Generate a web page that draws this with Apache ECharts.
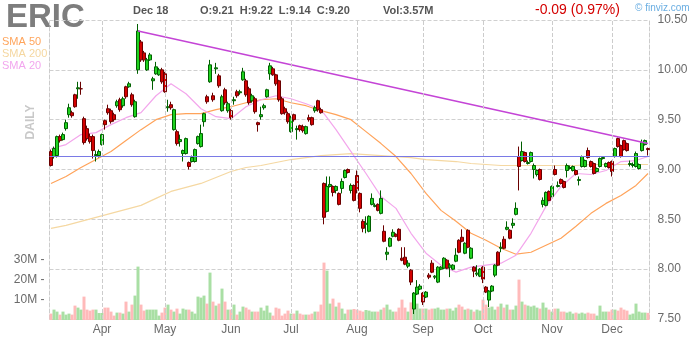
<!DOCTYPE html>
<html><head><meta charset="utf-8">
<script src="https://cdn.jsdelivr.net/npm/echarts/dist/echarts.min.js"></script>
<style>html,body{margin:0;padding:0;background:#fff}#c{width:700px;height:340px}</style>
</head><body><div id="c"></div>
<script>
const ticker = 'ERIC';
const dates = [
'2019-03-07','2019-03-08','2019-03-11','2019-03-12','2019-03-13','2019-03-14','2019-03-15','2019-03-18','2019-03-19','2019-03-20','2019-03-21','2019-03-22','2019-03-25','2019-03-26','2019-03-27','2019-03-28','2019-03-29',
'2019-04-01','2019-04-02','2019-04-03','2019-04-04','2019-04-05','2019-04-08','2019-04-09','2019-04-10','2019-04-11','2019-04-12','2019-04-15','2019-04-16','2019-04-17','2019-04-18','2019-04-22','2019-04-23','2019-04-24','2019-04-25','2019-04-26','2019-04-29','2019-04-30',
'2019-05-01','2019-05-02','2019-05-03','2019-05-06','2019-05-07','2019-05-08','2019-05-09','2019-05-10','2019-05-13','2019-05-14','2019-05-15','2019-05-16','2019-05-17','2019-05-20','2019-05-21','2019-05-22','2019-05-23','2019-05-24','2019-05-28','2019-05-29','2019-05-30','2019-05-31',
'2019-06-03','2019-06-04','2019-06-05','2019-06-06','2019-06-07','2019-06-10','2019-06-11','2019-06-12','2019-06-13','2019-06-14','2019-06-17','2019-06-18','2019-06-19','2019-06-20','2019-06-21','2019-06-24','2019-06-25','2019-06-26','2019-06-27','2019-06-28',
'2019-07-01','2019-07-02','2019-07-03','2019-07-05','2019-07-08','2019-07-09','2019-07-10','2019-07-11','2019-07-12','2019-07-15','2019-07-16','2019-07-17','2019-07-18','2019-07-19','2019-07-22','2019-07-23','2019-07-24','2019-07-25','2019-07-26','2019-07-29','2019-07-30','2019-07-31',
'2019-08-01','2019-08-02','2019-08-05','2019-08-06','2019-08-07','2019-08-08','2019-08-09','2019-08-12','2019-08-13','2019-08-14','2019-08-15','2019-08-16','2019-08-19','2019-08-20','2019-08-21','2019-08-22','2019-08-23','2019-08-26','2019-08-27','2019-08-28','2019-08-29','2019-08-30',
'2019-09-03','2019-09-04','2019-09-05','2019-09-06','2019-09-09','2019-09-10','2019-09-11','2019-09-12','2019-09-13','2019-09-16','2019-09-17','2019-09-18','2019-09-19','2019-09-20','2019-09-23','2019-09-24','2019-09-25','2019-09-26','2019-09-27','2019-09-30',
'2019-10-01','2019-10-02','2019-10-03','2019-10-04','2019-10-07','2019-10-08','2019-10-09','2019-10-10','2019-10-11','2019-10-14','2019-10-15','2019-10-16','2019-10-17','2019-10-18','2019-10-21','2019-10-22','2019-10-23','2019-10-24','2019-10-25','2019-10-28','2019-10-29','2019-10-30','2019-10-31',
'2019-11-01','2019-11-04','2019-11-05','2019-11-06','2019-11-07','2019-11-08','2019-11-11','2019-11-12','2019-11-13','2019-11-14','2019-11-15','2019-11-18','2019-11-19','2019-11-20','2019-11-21','2019-11-22','2019-11-25','2019-11-26','2019-11-27','2019-11-29',
'2019-12-02','2019-12-03','2019-12-04','2019-12-05','2019-12-06','2019-12-09','2019-12-10','2019-12-11','2019-12-12','2019-12-13','2019-12-16','2019-12-17','2019-12-18'
];
const open = [
9.18,9.13,9.14,9.33,9.30,9.41,9.55,9.57,9.75,9.81, 9.81,9.51,9.41,9.33,9.33,9.14,9.14,9.25,9.49,9.61,
9.59,9.55,9.64,9.70,9.64,9.83,9.83,9.75,9.53,10.00, 10.28,10.17,10.00,10.10,9.89,9.96,9.95,10.00,9.96,9.62,
9.65,9.40,9.38,9.28,9.16,9.16,9.07,9.08,9.08,9.26, 9.23,9.48,9.73,9.88,9.74,10.01,9.94,9.59,9.80,9.59,
9.59,9.69,9.78,9.77,9.90,9.89,9.81,9.69,9.71,9.47, 9.53,9.62,9.73,9.96,10.01,9.95,9.89,9.71,9.61,9.56,
9.38,9.55,9.40,9.44,9.43,9.36,9.52,9.52,9.59,9.69, 9.60,8.86,8.58,8.83,8.83,8.79,8.76,8.81,8.92,9.00,
8.79,8.84,8.94,8.76,8.48,8.45,8.38,8.65,8.63,8.65, 8.56,8.38,8.15,8.23,8.33,8.35,8.40,8.11,8.12,8.03,
7.99,7.60,7.75,7.80,7.76,7.72,7.94,8.06,7.92,7.87, 8.00,8.01,8.09,8.02,8.00,8.08,8.29,8.32,8.16,8.39,
8.11,8.02,7.95,7.93,8.02,7.82,7.69,7.78,7.94,8.17, 8.21,8.30,8.40,8.39,8.44,8.55,9.13,9.09,9.17,9.06,
9.08,9.00,8.95,9.00,8.65,8.64,8.78,8.73,9.00,8.83, 8.90,8.88,8.99,9.01,8.99,8.99,8.89,9.03,9.03,9.19,
9.08,9.06,8.98,9.03,9.11,9.03,9.07,9.08,9.13,9.31, 9.24,9.29,9.26,9.05,9.04,9.03,9.01,9.19,9.25,9.21
];
const close = [
9.04,9.21,9.33,9.29,9.35,9.47,9.62,9.54,9.63,9.82, 9.81,9.27,9.31,9.28,9.19,9.15,9.18,9.35,9.45,9.57,
9.48,9.50,9.68,9.60,9.71,9.73,9.86,9.65,9.68,10.39, 10.10,10.10,10.10,10.15,9.91,10.03,10.00,9.88,9.78,9.63,
9.62,9.60,9.26,9.30,9.19,9.31,9.03,9.12,9.20,9.33, 9.36,9.56,9.68,10.05,9.70,10.02,9.84,9.73,9.67,9.66,
9.52,9.70,9.74,9.78,9.98,9.75,9.67,9.74,9.58,9.45, 9.55,9.64,9.80,10.04,9.95,9.86,9.70,9.56,9.57,9.48,
9.52,9.50,9.41,9.40,9.39,9.43,9.50,9.45,9.62,9.60, 9.57,8.52,8.83,8.85,8.77,8.83,8.65,8.88,8.99,8.97,
8.84,8.69,8.79,8.61,8.41,8.46,8.53,8.71,8.64,8.59, 8.71,8.28,8.17,8.31,8.37,8.33,8.29,8.09,8.05,8.06,
7.87,7.76,7.82,7.83,7.67,7.77,7.92,7.97,7.93,8.02, 8.02,8.11,8.01,8.04,8.04,8.14,8.17,8.28,8.26,8.22,
8.21,7.98,7.96,8.00,7.90,7.77,7.78,7.83,8.04,8.04, 8.22,8.21,8.42,8.31,8.46,8.61,9.03,9.18,9.08,9.07,
9.17,9.04,8.99,8.90,8.69,8.77,8.69,8.83,8.95,8.84, 8.86,8.82,9.04,9.02,9.03,8.95,8.90,9.13,9.09,9.12,
9.03,8.96,9.01,9.11,9.12,9.06,9.02,8.98,9.21,9.23, 9.13,9.20,9.19,9.06,9.05,9.16,9.05,9.27,9.29,9.20
];
const low = [
9.03,9.11,9.12,9.27,9.29,9.39,9.52,9.52,9.62,9.71, 9.75,9.25,9.29,9.26,9.11,9.08,9.12,9.24,9.40,9.55,
9.46,9.48,9.62,9.58,9.62,9.71,9.82,9.63,9.52,9.96, 10.08,10.08,9.99,10.09,9.80,9.95,9.94,9.86,9.77,9.58,
9.60,9.39,9.24,9.23,9.08,9.15,9.00,9.07,9.07,9.25, 9.22,9.43,9.66,9.87,9.68,9.96,9.82,9.58,9.65,9.57,
9.50,9.65,9.72,9.75,9.89,9.73,9.65,9.67,9.56,9.38, 9.50,9.60,9.72,9.90,9.94,9.84,9.68,9.55,9.55,9.46,
9.37,9.48,9.30,9.38,9.37,9.35,9.48,9.44,9.57,9.58, 9.56,8.45,8.57,8.82,8.73,8.76,8.64,8.76,8.91,8.96,
8.76,8.68,8.76,8.57,8.37,8.36,8.37,8.64,8.62,8.58, 8.55,8.27,8.09,8.22,8.32,8.32,8.28,8.08,8.04,8.01,
7.84,7.55,7.74,7.79,7.64,7.71,7.90,7.96,7.90,7.86, 7.99,8.00,8.00,7.92,7.99,8.07,8.16,8.27,8.15,8.21,
8.10,7.92,7.93,7.92,7.86,7.76,7.62,7.77,7.92,8.03, 8.17,8.20,8.39,8.30,8.41,8.54,8.79,9.08,9.07,9.05,
9.07,8.91,8.93,8.89,8.62,8.63,8.68,8.72,8.94,8.82, 8.85,8.81,8.92,9.00,8.98,8.94,8.84,9.02,9.02,9.11,
9.02,8.95,8.97,9.02,9.10,9.02,9.01,8.93,9.12,9.22, 9.12,9.19,9.18,9.03,9.02,9.02,9.00,9.18,9.24,9.14
];
const high = [
9.20,9.23,9.34,9.35,9.37,9.50,9.66,9.59,9.76,9.88, 9.88,9.53,9.44,9.36,9.35,9.19,9.20,9.36,9.50,9.65,
9.61,9.57,9.70,9.72,9.73,9.84,9.88,9.77,9.70,10.46, 10.30,10.19,10.12,10.17,9.93,10.08,10.02,10.02,9.98,9.70,
9.68,9.61,9.40,9.35,9.20,9.32,9.08,9.14,9.21,9.34, 9.45,9.57,9.75,10.10,9.77,10.07,9.96,9.75,9.82,9.68,
9.61,9.73,9.80,9.80,10.02,9.91,9.83,9.76,9.73,9.48, 9.63,9.66,9.81,10.07,10.03,9.96,9.90,9.73,9.63,9.58,
9.54,9.56,9.44,9.45,9.45,9.44,9.55,9.53,9.64,9.70, 9.62,8.87,8.93,8.93,8.84,8.84,8.77,8.91,9.00,9.01,
8.86,8.85,8.99,8.77,8.50,8.53,8.54,8.76,8.66,8.66, 8.79,8.44,8.22,8.32,8.40,8.36,8.41,8.22,8.22,8.09,
8.00,7.77,7.89,7.85,7.77,7.78,7.96,8.09,7.94,8.03, 8.03,8.12,8.10,8.06,8.05,8.21,8.30,8.40,8.27,8.40,
8.22,8.03,8.04,8.01,8.03,7.83,7.79,7.84,8.05,8.18, 8.27,8.33,8.48,8.40,8.51,8.67,9.23,9.28,9.18,9.09,
9.18,9.06,9.00,9.01,8.72,8.78,8.79,8.84,9.04,8.88, 8.91,8.89,9.06,9.04,9.04,9.00,8.93,9.14,9.10,9.22,
9.09,9.07,9.02,9.12,9.13,9.07,9.08,9.09,9.22,9.32, 9.25,9.30,9.27,9.09,9.07,9.18,9.06,9.30,9.30,9.22
];
const volumeM = [
3.2,5.2,4.2,2.7,4.2,2.7,3.2,2.7,7.2,6.2, 5.2,11.7,5.2,4.7,5.2,5.2,3.5,3.5,6.2,6.2,
4.2,2.2,3.7,3.7,3.2,9.2,4.2,7.7,12.2,26.7, 7.7,4.7,5.2,5.2,5.2,5.2,2.2,3.7,6.2,7.7,
5.2,4.2,5.7,3.2,5.7,5.2,5.2,4.2,3.2,11.7, 11.2,12.2,8.2,23.7,9.2,7.2,8.2,15.7,9.2,5.2,
5.2,7.7,2.7,4.2,6.7,6.2,5.2,4.2,4.2,4.2, 6.2,4.7,7.2,3.7,2.2,6.2,5.7,2.2,3.2,4.7,
3.2,3.2,4.7,3.2,2.7,2.7,2.7,3.2,4.2,4.2, 7.7,28.7,24.7,8.2,10.7,6.7,8.7,5.7,3.2,5.2,
5.2,5.5,5.2,4.7,4.2,5.0,4.7,4.2,4.2,4.2, 5.2,6.2,7.7,5.2,4.2,4.2,6.2,10.2,6.2,4.2,
8.8,9.2,8.2,5.7,5.7,5.7,5.2,5.7,5.7,6.2, 5.2,5.2,5.7,5.7,4.7,6.2,7.7,6.7,5.2,5.7,
5.2,4.2,5.2,4.7,10.2,7.7,6.2,6.7,5.2,6.7, 8.2,6.2,7.7,5.2,5.2,7.2,20.2,9.2,7.7,7.2,
6.7,7.2,6.2,5.7,8.7,6.2,5.2,4.2,5.7,5.7, 4.2,4.2,3.7,4.2,3.2,3.7,3.2,3.7,3.2,3.7,
3.2,3.2,2.2,7.2,4.2,4.2,4.2,5.2,5.2,4.7, 6.2,5.2,4.7,2.7,3.2,8.2,4.2,3.7,3.7,3.57
];
// moving averages at these bar indices
const smaIndex = [0,5,10,15,20,25,30,35,40,45,50,55,60,65,70,75,80,85,90,95,100,105,110,115,120,125,130,135,140,145,150,155,160,165,170,175,180,185,190,195,199];
const sma20 = [9.21,9.25,9.35,9.37,9.45,9.52,9.57,9.74,9.86,9.76,9.61,9.53,9.51,9.63,9.70,9.74,9.71,9.66,9.60,9.40,9.18,8.96,8.73,8.61,8.36,8.16,8.04,7.97,8.02,8.04,8.06,8.14,8.36,8.63,8.83,8.96,8.95,8.99,9.08,9.09,9.13];
const sma50 = [8.86,8.93,9.02,9.10,9.18,9.29,9.40,9.50,9.55,9.56,9.56,9.60,9.63,9.67,9.70,9.71,9.67,9.64,9.59,9.55,9.50,9.38,9.26,9.13,8.96,8.76,8.59,8.48,8.36,8.29,8.21,8.15,8.17,8.24,8.31,8.43,8.56,8.66,8.74,8.84,8.96];
const sma200 = [8.41,8.44,8.48,8.52,8.56,8.60,8.64,8.71,8.78,8.82,8.86,8.92,8.98,9.02,9.04,9.07,9.10,9.12,9.14,9.15,9.16,9.15,9.14,9.13,9.12,9.10,9.09,9.08,9.06,9.05,9.04,9.04,9.04,9.04,9.04,9.04,9.05,9.05,9.05,9.05,9.05];
const trendIndex = [29,199];
const trendValue = [10.39,9.26];
const supportLevel = 9.13;
const priceTicks = [7.5,8.0,8.5,9.0,9.5,10.0,10.5];
const volumeTicksM = [10,20,30];
const monthNames = ['Jan','Feb','Mar','Apr','May','Jun','Jul','Aug','Sep','Oct','Nov','Dec'];

const FONT = 'Arial, "Liberation Sans", Helvetica, sans-serif';
const n = dates.length, last = n - 1;
const ohlc = dates.map((d,i)=>[open[i], close[i], low[i], high[i]]);
const volData = volumeM.map((v,i)=>({value:v, itemStyle:{color: close[i] >= open[i] ? '#a9dfa4' : '#ffbaba'}}));
const monthStarts = [];
dates.forEach((d,i)=>{ if(i>0 && d.slice(5,7)!==dates[i-1].slice(5,7)) monthStarts.push(i); });
const chg = close[last]-close[last-1];
const pct = Math.abs(chg)/close[last-1]*100;
const lastDate = dates[last];
const dateText = monthNames[+lastDate.slice(5,7)-1] + ' ' + (+lastDate.slice(8,10));
const ohlcText = 'O:'+open[last].toFixed(2)+'  H:'+high[last].toFixed(2)+'  L:'+low[last].toFixed(2)+'  C:'+close[last].toFixed(2);

const chart = echarts.init(document.getElementById('c'), null, {renderer:'canvas'});
const txt = (x,y,text,color,size,weight,extra)=>Object.assign({type:'text', x:x, y:y, silent:true,
  style:{text:text, fill:color, font:(weight||'normal')+' '+size+'px '+FONT, textVerticalAlign:'middle'}}, extra||{});

chart.setOption({
  animation:false,
  backgroundColor:'#ffffff',
  grid:[
    {left:49.5, right:50.5, top:20, height:299},
    {left:49.5, right:50.5, top:260, height:60}
  ],
  xAxis:[
    {type:'category', gridIndex:0, data:dates, boundaryGap:true,
     axisLine:{show:false}, axisTick:{show:false}, splitLine:{show:false},
     axisLabel:{interval:(i)=>monthStarts.indexOf(i)>=0, formatter:(v)=>monthNames[+v.slice(5,7)-1],
       color:'#6a6a6a', fontSize:12, fontFamily:FONT, margin:5}},
    {type:'category', gridIndex:1, data:dates, boundaryGap:true,
     axisLine:{show:false}, axisTick:{show:false}, axisLabel:{show:false}, splitLine:{show:false}}
  ],
  yAxis:[
    {type:'value', gridIndex:0, position:'right', min:priceTicks[0], max:priceTicks[priceTicks.length-1], interval:0.5,
     axisLine:{show:true, lineStyle:{color:'#cccccc', type:'dashed'}}, axisTick:{show:false},
     splitLine:{show:true, lineStyle:{color:'#d0d0d0', type:'dashed'}},
     axisLabel:{formatter:(v)=>v.toFixed(2), color:'#6a6a6a', fontSize:12, fontFamily:FONT, margin:8}},
    {type:'value', gridIndex:0, position:'left', min:priceTicks[0], max:priceTicks[priceTicks.length-1],
     axisLine:{show:true, lineStyle:{color:'#cccccc', type:'dashed'}}, axisTick:{show:false},
     axisLabel:{show:false}, splitLine:{show:false}},
    {type:'value', gridIndex:1, position:'left', min:0, max:volumeTicksM[volumeTicksM.length-1], interval:10,
     axisLine:{show:false}, axisTick:{show:false}, splitLine:{show:false},
     axisLabel:{formatter:(v)=> volumeTicksM.indexOf(v)>=0 ? v+'M -' : '', color:'#6a6a6a', fontSize:12, fontFamily:FONT, margin:5}}
  ],
  graphic:[
    txt(6,18,ticker,'#7d7d7d',33,'bold'),
    txt(133,11,dateText,'#555',11,'bold'),
    txt(200,11,ohlcText,'#555',11,'bold'),
    txt(383,11,'Vol:'+volumeM[last].toFixed(2)+'M','#555',11,'bold'),
    txt(535,10,(chg<0?'-':'+')+Math.abs(chg).toFixed(2)+' ('+pct.toFixed(2)+'%)','#d40000',14,'normal'),
    txt(635,8,'\u00a9 finviz.com','#6aaee2',10,'normal'),
    txt(2,42,'SMA 50','#ffa55c',11,'normal'),
    txt(2,54,'SMA 200','#f5d7a0',11,'normal'),
    txt(2,66,'SMA 20','#f2a6ee',11,'normal'),
    txt(31,122,'DAILY','#c8c8c8',12,'bold',{rotation:Math.PI/2, style:{text:'DAILY', fill:'#c8c8c8', font:'bold 12px '+FONT, textAlign:'center', textVerticalAlign:'middle'}})
  ],
  series:[
    {type:'line', xAxisIndex:0, yAxisIndex:0, data:[], z:0, silent:true,
     markLine:{symbol:'none', silent:true, label:{show:false},
       lineStyle:{color:'#cccccc', type:'dashed', width:1},
       data: monthStarts.map(i=>({xAxis:dates[i]}))}},
    {type:'bar', xAxisIndex:1, yAxisIndex:2, data:volData, barWidth:3, barCategoryGap:'0%', z:1, silent:true},
    {type:'line', xAxisIndex:0, yAxisIndex:0, data:smaIndex.map((ix,k)=>[ix, sma200[k]]), showSymbol:false, z:2,
     lineStyle:{color:'#f5d8a2', width:1.2}, silent:true},
    {type:'line', xAxisIndex:0, yAxisIndex:0, data:smaIndex.map((ix,k)=>[ix, sma50[k]]), showSymbol:false, z:2,
     lineStyle:{color:'#ffa35a', width:1.2}, silent:true},
    {type:'line', xAxisIndex:0, yAxisIndex:0, data:smaIndex.map((ix,k)=>[ix, sma20[k]]), showSymbol:false, z:2,
     lineStyle:{color:'#f3a6ec', width:1.2}, silent:true},
    {type:'candlestick', xAxisIndex:0, yAxisIndex:0, data:ohlc, barWidth:3, z:3, silent:true,
     itemStyle:{color:'#1ed21e', color0:'#d40000', borderColor:'#005f00', borderColor0:'#6a0000', borderWidth:1},
     markLine:{symbol:'none', silent:true,
       data:[
         {yAxis:supportLevel, lineStyle:{color:'#7a7ae6', width:1, type:'solid'}, label:{show:false}},
         {yAxis:close[last], lineStyle:{opacity:0, width:0}, label:{show:true, position:'end', distance:8,
           formatter:close[last].toFixed(2), backgroundColor:'#ffff00', color:'#000', fontSize:12, fontWeight:'bold', fontFamily:FONT,
           padding:[2,3,1,3]}}
       ]}},
    {type:'line', xAxisIndex:0, yAxisIndex:0, data:trendIndex.map((ix,k)=>[ix, trendValue[k]]), showSymbol:false, z:4,
     lineStyle:{color:'#c444d6', width:1.6}, silent:true}
  ]
});
</script></body></html>
